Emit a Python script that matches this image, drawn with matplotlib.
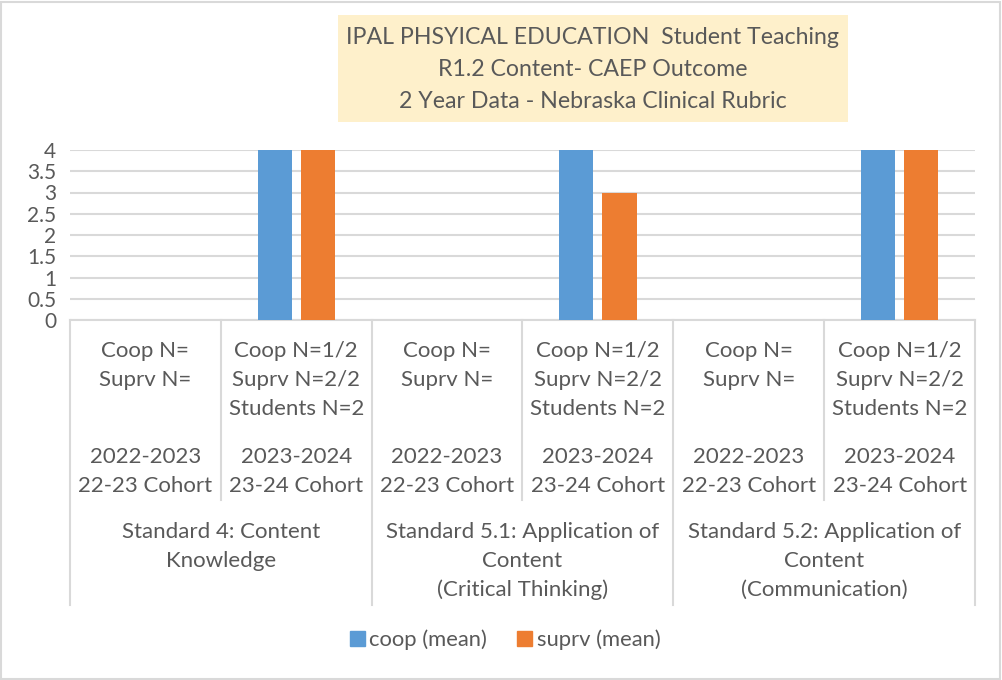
import numpy as np
import matplotlib
matplotlib.use('Agg')
import matplotlib.pyplot as plt
from matplotlib.patches import Rectangle, Patch
from matplotlib.transforms import blended_transform_factory

# data
rater_labels = [
    ["Coop N=", "Suprv N="],
    ["Coop N=1/2", "Suprv N=2/2", "Students N=2"],
    ["Coop N=", "Suprv N="],
    ["Coop N=1/2", "Suprv N=2/2", "Students N=2"],
    ["Coop N=", "Suprv N="],
    ["Coop N=1/2", "Suprv N=2/2", "Students N=2"],
]
year_labels = [
    ["2022-2023", "22-23 Cohort"],
    ["2023-2024", "23-24 Cohort"],
    ["2022-2023", "22-23 Cohort"],
    ["2023-2024", "23-24 Cohort"],
    ["2022-2023", "22-23 Cohort"],
    ["2023-2024", "23-24 Cohort"],
]
group_labels = [
    ["Standard 4: Content", "Knowledge"],
    ["Standard 5.1: Application of", "Content", "(Critical Thinking)"],
    ["Standard 5.2: Application of", "Content", "(Communication)"],
]
coop_mean = [np.nan, 4, np.nan, 4, np.nan, 4]
suprv_mean = [np.nan, 4, np.nan, 3, np.nan, 4]
title_lines = ["IPAL PHSYICAL EDUCATION  Student Teaching",
               "R1.2 Content- CAEP Outcome",
               "2 Year Data - Nebraska Clinical Rubric"]

BLUE = '#5B9BD5'
ORANGE = '#ED7D31'
TXT = '#595959'
GRID = '#D9D9D9'
FS = 16

plt.rcParams['font.family'] = ['Lato', 'DejaVu Sans']

W, H = 1002, 680
fig = plt.figure(figsize=(W / 100, H / 100), dpi=100)

def fy(py):
    return 1 - py / H

ax = fig.add_axes([70 / W, fy(320), (975 - 70) / W, (320 - 150) / H])

x = np.arange(len(rater_labels))
bw = 0.226
off = 0.143
ax.bar(x - off, coop_mean, bw, color=BLUE, zorder=3)
ax.bar(x + off, suprv_mean, bw, color=ORANGE, zorder=3)

ax.set_xlim(-0.5, len(rater_labels) - 0.5)
ax.set_ylim(0, 4)
yt = np.arange(0, 4.01, 0.5)
ax.set_yticks(yt)
ax.set_yticklabels([f"{v:g}" for v in yt], color=TXT, fontsize=15)
ax.tick_params(axis='y', length=0, pad=10)
ax.set_xticks([])
for s in ['top', 'right', 'left']:
    ax.spines[s].set_visible(False)
ax.spines['bottom'].set_color(GRID)
ax.spines['bottom'].set_linewidth(1.5)
ax.grid(axis='y', color=GRID, linewidth=1.5, zorder=0)
ax.set_axisbelow(True)

# category separators below the axis
tr = blended_transform_factory(ax.transData, fig.transFigure)
for i in range(len(rater_labels) + 1):
    xb = i - 0.5
    bottom = 605 if i % 2 == 0 else 500
    ax.plot([xb, xb], [fy(320), fy(bottom)], color=GRID, lw=1.5,
            transform=tr, clip_on=False)

def put_lines(xc, lines, y0, step=29):
    for k, s in enumerate(lines):
        ax.text(xc, fy(y0 + k * step), s, transform=tr, ha='center',
                va='center', fontsize=FS, color=TXT)

for i in range(len(rater_labels)):
    put_lines(i, rater_labels[i], 351)
    put_lines(i, year_labels[i], 457)
for g, lab in enumerate(group_labels):
    put_lines(2 * g + 0.5, lab, 532)

# title box
fig.patches.append(Rectangle((338 / W, fy(122)), (848 - 338) / W, (122 - 15) / H,
                             transform=fig.transFigure, facecolor='#FEF0CB',
                             edgecolor='none', zorder=0))
for k, s in enumerate(title_lines):
    fig.text(593 / W, fy(37 + k * 32.5), s, ha='center', va='center',
             fontsize=16.7, color=TXT)

# chart border
fig.patches.append(Rectangle((1 / W, 1 / H), (W - 3) / W, (H - 3) / H,
                             transform=fig.transFigure, facecolor='none',
                             edgecolor=GRID, lw=1.5))

handles = [Patch(color=BLUE, label='coop (mean)'),
           Patch(color=ORANGE, label='suprv (mean)')]
fig.legend(handles=handles, loc='center', bbox_to_anchor=(505 / W, fy(640)),
           ncol=2, frameon=False, fontsize=15.8, handlelength=0.7,
           handleheight=0.7, handletextpad=0.2, columnspacing=1.35,
           labelcolor=TXT)

fig.savefig('out.png', dpi=100)
